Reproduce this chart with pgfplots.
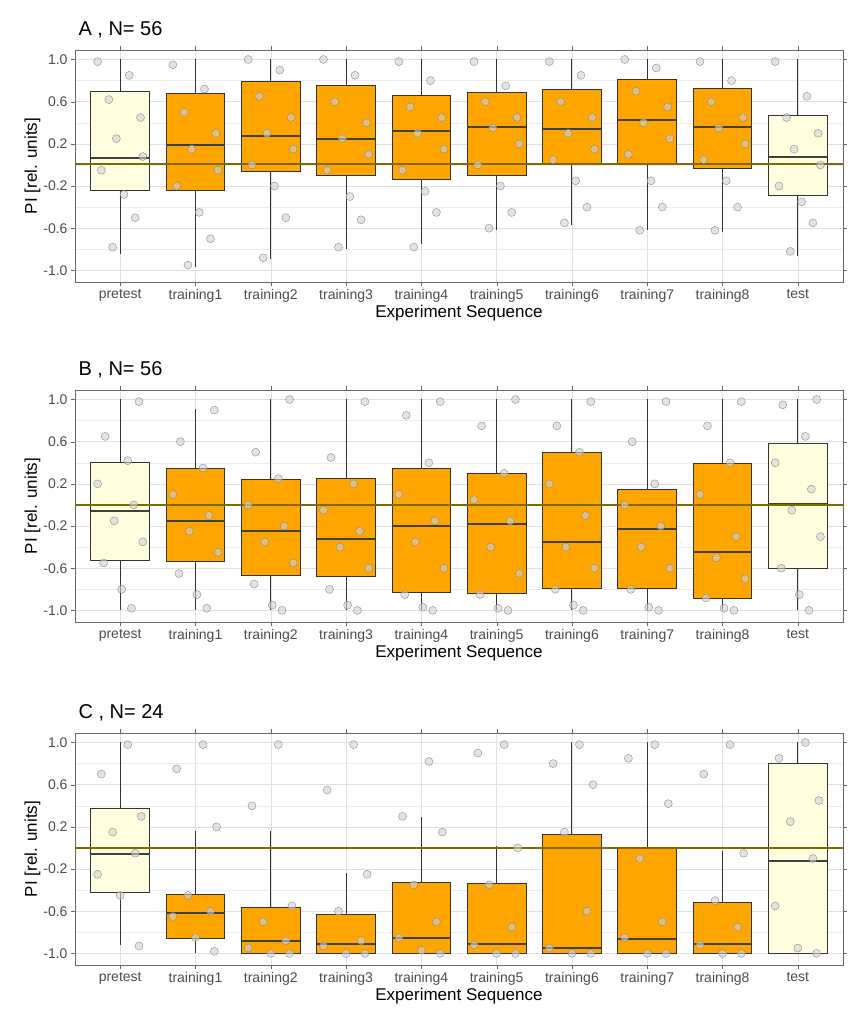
\documentclass[border=0pt]{standalone}
\usepackage{pgfplots}
\pgfplotsset{compat=1.18}
\usepgfplotslibrary{statistics}
\usepackage{fontspec}
\setmainfont{Liberation Sans}
\definecolor{boxor}{HTML}{FFA500}
\definecolor{boxye}{HTML}{FFFFE0}
\definecolor{olive0}{HTML}{7F6A00}
\newcommand\bx[7]{\addplot[draw=black!80, line width=0.9pt, fill=#1, boxplot prepared={draw direction=y, draw position=#2, lower whisker=#3, lower quartile=#4, median=#5, upper quartile=#6, upper whisker=#7, box extend=0.78, whisker extend=0}] coordinates {};}
\pgfplotsset{
 panel/.style={
  scale only axis, width=768pt, height=232pt, anchor=north west,
  xmin=0.4, xmax=10.6, ymin=-1.11, ymax=1.09,
  xtick={1,...,10}, xticklabels={pretest,training1,training2,training3,training4,training5,training6,training7,training8,test},
  ytick={-1,-0.6,-0.2,0.2,0.6,1}, minor ytick={-0.8,-0.4,0,0.4,0.8},
  yticklabel style={/pgf/number format/.cd,fixed,fixed zerofill,precision=1,assume math mode=true},
  ymajorgrids, yminorgrids, xmajorgrids,
  major grid style={black!12}, minor grid style={black!7},
  axis line style={black!60}, tick style={black!60}, tick align=outside, major tick length=4pt, minor tick length=0pt,
  ticklabel style={font=\fontsize{14}{16}\selectfont, text=black!70},
  xlabel={Experiment Sequence}, ylabel={PI [rel. units]},
  label style={font=\fontsize{17}{19}\selectfont},
  xlabel style={yshift=4pt}, ylabel style={yshift=-4pt},
  title style={at={(0,1)}, anchor=south west, font=\fontsize{20}{22}\selectfont, yshift=2pt},
  boxplot/every median/.style={line width=2pt, black!75},
 },
 pts/.style={only marks, mark=*, mark size=4pt, mark options={fill=black!18, draw=black!45, fill opacity=0.6, line width=0.4pt}},
 zl/.style={olive0, line width=2pt},
}
\begin{document}
\begin{tikzpicture}
\path[use as bounding box] (0,0) rectangle (853pt,-1024pt);
\begin{axis}[panel, at={(75pt,-50pt)}, title={A , N= 56}]
\bx{boxye}{1}{-0.84}{-0.24}{0.07}{0.70}{1.0}
\bx{boxor}{2}{-0.97}{-0.24}{0.19}{0.68}{1.0}
\bx{boxor}{3}{-0.89}{-0.06}{0.27}{0.79}{1.0}
\bx{boxor}{4}{-0.80}{-0.10}{0.25}{0.75}{1.0}
\bx{boxor}{5}{-0.75}{-0.14}{0.32}{0.66}{1.0}
\bx{boxor}{6}{-0.62}{-0.10}{0.36}{0.69}{1.0}
\bx{boxor}{7}{-0.57}{0.0}{0.34}{0.72}{1.0}
\bx{boxor}{8}{-0.62}{0.0}{0.43}{0.81}{1.0}
\bx{boxor}{9}{-0.64}{-0.03}{0.36}{0.73}{1.0}
\bx{boxye}{10}{-0.86}{-0.29}{0.08}{0.47}{1.0}
\addplot[zl] coordinates {(0.4,0.01)(10.6,0.01)};
\addplot[pts] coordinates {
(0.7,0.98)(1.12,0.85)(0.85,0.62)(1.27,0.45)(0.95,0.25)(1.3,0.08)(0.75,-0.05)(1.05,-0.28)(1.2,-0.5)(0.9,-0.78)
(1.7,0.95)(2.12,0.72)(1.85,0.5)(2.27,0.3)(1.95,0.15)(2.3,-0.05)(1.75,-0.2)(2.05,-0.45)(2.2,-0.7)(1.9,-0.95)
(2.7,1.0)(3.12,0.9)(2.85,0.65)(3.27,0.45)(2.95,0.3)(3.3,0.15)(2.75,0.0)(3.05,-0.2)(3.2,-0.5)(2.9,-0.88)
(3.7,1.0)(4.12,0.85)(3.85,0.6)(4.27,0.4)(3.95,0.25)(4.3,0.1)(3.75,-0.05)(4.05,-0.3)(4.2,-0.52)(3.9,-0.78)
(4.7,0.98)(5.12,0.8)(4.85,0.55)(5.27,0.45)(4.95,0.3)(5.3,0.15)(4.75,-0.05)(5.05,-0.25)(5.2,-0.45)(4.9,-0.78)
(5.7,0.98)(6.12,0.75)(5.85,0.6)(6.27,0.45)(5.95,0.35)(6.3,0.2)(5.75,0.0)(6.05,-0.2)(6.2,-0.45)(5.9,-0.6)
(6.7,0.98)(7.12,0.85)(6.85,0.6)(7.27,0.45)(6.95,0.3)(7.3,0.15)(6.75,0.05)(7.05,-0.15)(7.2,-0.4)(6.9,-0.55)
(7.7,1.0)(8.12,0.92)(7.85,0.7)(8.27,0.55)(7.95,0.4)(8.3,0.25)(7.75,0.1)(8.05,-0.15)(8.2,-0.4)(7.9,-0.62)
(8.7,0.98)(9.12,0.8)(8.85,0.6)(9.27,0.45)(8.95,0.35)(9.3,0.2)(8.75,0.05)(9.05,-0.15)(9.2,-0.4)(8.9,-0.62)
(9.7,0.98)(10.12,0.65)(9.85,0.45)(10.27,0.3)(9.95,0.15)(10.3,0.0)(9.75,-0.2)(10.05,-0.35)(10.2,-0.55)(9.9,-0.82)
};
\end{axis}
\begin{axis}[panel, at={(75pt,-390pt)}, title={B , N= 56}]
\bx{boxye}{1}{-1.0}{-0.53}{-0.06}{0.40}{1.0}
\bx{boxor}{2}{-1.0}{-0.54}{-0.15}{0.35}{0.91}
\bx{boxor}{3}{-1.0}{-0.67}{-0.25}{0.24}{1.0}
\bx{boxor}{4}{-1.0}{-0.68}{-0.32}{0.25}{1.0}
\bx{boxor}{5}{-1.0}{-0.83}{-0.20}{0.35}{1.0}
\bx{boxor}{6}{-1.0}{-0.84}{-0.18}{0.30}{1.0}
\bx{boxor}{7}{-1.0}{-0.79}{-0.35}{0.50}{1.0}
\bx{boxor}{8}{-1.0}{-0.79}{-0.23}{0.15}{1.0}
\bx{boxor}{9}{-1.0}{-0.89}{-0.45}{0.39}{1.0}
\bx{boxye}{10}{-1.0}{-0.60}{0.01}{0.58}{1.0}
\addplot[zl] coordinates {(0.4,0)(10.6,0)};
\addplot[pts] coordinates {
(1.25,0.98)(0.8,0.65)(1.1,0.42)(0.7,0.2)(1.18,0.0)(0.92,-0.15)(1.3,-0.35)(0.78,-0.55)(1.02,-0.8)(1.15,-0.98)
(2.25,0.9)(1.8,0.6)(2.1,0.35)(1.7,0.1)(2.18,-0.1)(1.92,-0.25)(2.3,-0.45)(1.78,-0.65)(2.02,-0.85)(2.15,-0.98)
(3.25,1.0)(2.8,0.5)(3.1,0.25)(2.7,0.0)(3.18,-0.2)(2.92,-0.35)(3.3,-0.55)(2.78,-0.75)(3.02,-0.95)(3.15,-1.0)
(4.25,0.98)(3.8,0.45)(4.1,0.2)(3.7,-0.05)(4.18,-0.25)(3.92,-0.4)(4.3,-0.6)(3.78,-0.8)(4.02,-0.95)(4.15,-1.0)
(5.25,0.98)(4.8,0.85)(5.1,0.4)(4.7,0.1)(5.18,-0.15)(4.92,-0.35)(5.3,-0.6)(4.78,-0.85)(5.02,-0.97)(5.15,-1.0)
(6.25,1.0)(5.8,0.75)(6.1,0.3)(5.7,0.05)(6.18,-0.15)(5.92,-0.4)(6.3,-0.65)(5.78,-0.85)(6.02,-0.98)(6.15,-1.0)
(7.25,0.98)(6.8,0.75)(7.1,0.5)(6.7,0.2)(7.18,-0.1)(6.92,-0.4)(7.3,-0.6)(6.78,-0.8)(7.02,-0.95)(7.15,-1.0)
(8.25,0.98)(7.8,0.6)(8.1,0.2)(7.7,0.0)(8.18,-0.2)(7.92,-0.4)(8.3,-0.6)(7.78,-0.8)(8.02,-0.97)(8.15,-1.0)
(9.25,0.98)(8.8,0.75)(9.1,0.4)(8.7,0.1)(9.18,-0.3)(8.92,-0.5)(9.3,-0.7)(8.78,-0.88)(9.02,-0.98)(9.15,-1.0)
(10.25,1.0)(9.8,0.95)(10.1,0.65)(9.7,0.4)(10.18,0.15)(9.92,-0.05)(10.3,-0.3)(9.78,-0.6)(10.02,-0.85)(10.15,-1.0)
};
\end{axis}
\begin{axis}[panel, at={(75pt,-733pt)}, title={C , N= 24}]
\bx{boxye}{1}{-0.92}{-0.42}{-0.06}{0.37}{1.0}
\bx{boxor}{2}{-1.0}{-0.86}{-0.62}{-0.44}{0.16}
\bx{boxor}{3}{-1.0}{-1.0}{-0.88}{-0.56}{0.16}
\bx{boxor}{4}{-1.0}{-1.0}{-0.91}{-0.63}{-0.24}
\bx{boxor}{5}{-1.0}{-1.0}{-0.85}{-0.33}{0.29}
\bx{boxor}{6}{-1.0}{-1.0}{-0.91}{-0.34}{0.02}
\bx{boxor}{7}{-1.0}{-1.0}{-0.95}{0.13}{1.0}
\bx{boxor}{8}{-1.0}{-1.0}{-0.86}{0.0}{1.0}
\bx{boxor}{9}{-1.0}{-1.0}{-0.91}{-0.52}{-0.03}
\bx{boxye}{10}{-1.0}{-1.0}{-0.12}{0.80}{1.0}
\addplot[zl] coordinates {(0.4,0)(10.6,0)};
\addplot[pts] coordinates {
(1.1,0.98)(0.75,0.7)(1.28,0.3)(0.9,0.15)(1.2,-0.05)(0.7,-0.25)(1.0,-0.45)(1.25,-0.93)
(2.1,0.98)(1.75,0.75)(2.28,0.2)(1.9,-0.45)(2.2,-0.6)(1.7,-0.65)(2.0,-0.85)(2.25,-0.98)
(3.1,0.98)(2.75,0.4)(3.28,-0.55)(2.9,-0.7)(3.2,-0.88)(2.7,-0.95)(3.0,-1.0)(3.25,-1.0)
(4.1,0.98)(3.75,0.55)(4.28,-0.25)(3.9,-0.6)(4.2,-0.88)(3.7,-0.93)(4.0,-1.0)(4.25,-1.0)
(5.1,0.82)(4.75,0.3)(5.28,0.15)(4.9,-0.35)(5.2,-0.7)(4.7,-0.85)(5.0,-0.97)(5.25,-1.0)
(6.1,0.98)(5.75,0.9)(6.28,0.0)(5.9,-0.35)(6.2,-0.75)(5.7,-0.92)(6.0,-1.0)(6.25,-1.0)
(7.1,0.98)(6.75,0.8)(7.28,0.6)(6.9,0.15)(7.2,-0.6)(6.7,-0.95)(7.0,-1.0)(7.25,-1.0)
(8.1,0.98)(7.75,0.85)(8.28,0.42)(7.9,-0.1)(8.2,-0.7)(7.7,-0.85)(8.0,-1.0)(8.25,-1.0)
(9.1,0.98)(8.75,0.7)(9.28,-0.05)(8.9,-0.5)(9.2,-0.75)(8.7,-0.92)(9.0,-1.0)(9.25,-1.0)
(10.1,1.0)(9.75,0.85)(10.28,0.45)(9.9,0.25)(10.2,-0.1)(9.7,-0.55)(10.0,-0.95)(10.25,-1.0)
};
\end{axis}
\end{tikzpicture}
\end{document}
